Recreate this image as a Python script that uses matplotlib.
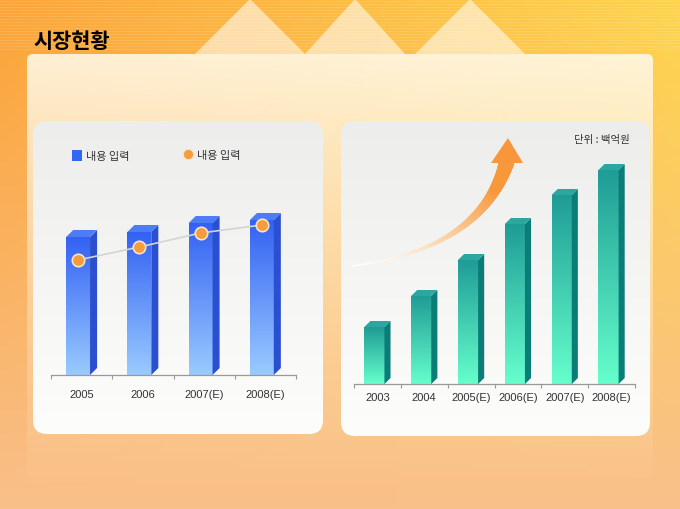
import numpy as np
import matplotlib.pyplot as plt
from matplotlib.patches import Polygon, FancyBboxPatch, Rectangle
from matplotlib.collections import LineCollection
from matplotlib.colors import to_rgb

plt.rcParams['font.family'] = ['Noto Sans CJK KR', 'DejaVu Sans']

# data
title = '시장현황'
left_years = ['2005', '2006', '2007(E)', '2008(E)']
left_bars = [138, 143, 152, 155]
left_line = [115, 128, 142, 150]
legend_bar = '내용 입력'
legend_line = '내용 입력'

right_years = ['2003', '2004', '2005(E)', '2006(E)', '2007(E)', '2008(E)']
right_bars = [57, 88, 124, 160, 189, 214]
unit_text = '단위 : 백억원'

W, H = 680, 510
fig = plt.figure(figsize=(6.8, 5.1), dpi=100)

# background layer in pixel coordinates
bg = fig.add_axes([0, 0, 1, 1])
bg.set_xlim(0, W)
bg.set_ylim(H, 0)
bg.axis('off')


def vgrad(top, bottom, n=256):
    t = np.linspace(0, 1, n)[:, None]
    a = np.array(to_rgb(top))
    b = np.array(to_rgb(bottom))
    return (a * (1 - t) + b * t)[:, None, :].repeat(2, axis=1)


# orange -> yellow background, fading to peach at the bottom
xs = np.linspace(0, 1, 200)[None, :, None]
ys = np.linspace(0, 1, 150)[:, None, None]
left_c = np.array(to_rgb('#fca436'))
right_c = np.array(to_rgb('#fed44c'))
bottom_c = np.array(to_rgb('#f9c08a'))
top_img = left_c * (1 - xs) + right_c * xs
img = top_img * (1 - ys) + bottom_c * ys
bg.imshow(img, extent=(0, W, H, 0), aspect='auto', zorder=0)

# faint horizontal stripes at the top
for yy in range(2, 52, 3):
    bg.plot([0, W], [yy, yy], color='white', alpha=0.12, lw=0.8, zorder=1)

# white triangles at the top
for tx in [(195, 250, 305), (305, 355, 405), (415, 470, 525)]:
    tri = Polygon([(tx[0], 55), (tx[1], 0), (tx[2], 55)], closed=True,
                  facecolor='white', edgecolor='none', alpha=0.55, zorder=1)
    bg.add_patch(tri)

# big cream panel with a fade downwards
panel = FancyBboxPatch((27, 55), 626, 440, boxstyle='round,pad=0,rounding_size=6',
                       facecolor='none', edgecolor='none', zorder=2)
bg.add_patch(panel)
pimg = np.zeros((200, 2, 4))
pimg[..., :3] = to_rgb('#fff8e6')
pimg[..., 3] = np.linspace(0.9, 0.0, 200)[:, None]
im = bg.imshow(pimg, extent=(27, 653, 495, 55), aspect='auto', zorder=2)
im.set_clip_path(panel)

# title
bg.text(33, 42, title, fontsize=15, fontweight='bold', color='black',
        va='center', ha='left', zorder=5)

# two inner panels
for (x0, y0, x1, y1) in [(33, 122, 323, 435), (341, 122, 650, 437)]:
    p = FancyBboxPatch((x0, y0), x1 - x0, y1 - y0,
                       boxstyle='round,pad=0,rounding_size=14',
                       facecolor='none', edgecolor='none', zorder=3)
    bg.add_patch(p)
    pim = bg.imshow(vgrad('#ededeb', '#fdfdfc'), extent=(x0, x1, y1, y0),
                    aspect='auto', zorder=3)
    pim.set_clip_path(p)

# orange growth arrow (decoration), quadratic curve
tt = np.linspace(0, 1, 200)
p0, p1, p2 = np.array([352, 267]), np.array([482, 250]), np.array([507, 162])
curve = ((1 - tt) ** 2)[:, None] * p0 + (2 * (1 - tt) * tt)[:, None] * p1 + (tt ** 2)[:, None] * p2
pts = curve.reshape(-1, 1, 2)
segs = np.concatenate([pts[:-1], pts[1:]], axis=1)
c0 = np.array(to_rgb('#ffffff'))
c1 = np.array(to_rgb('#f7983a'))
mix = np.clip(tt[:-1] / 0.85, 0, 1) ** 1.3
cols = [tuple(c0 * (1 - s) + c1 * s) for s in mix]
widths = (1.5 + 14 * tt[:-1] ** 1.8) * 0.72
bg.add_collection(LineCollection(segs, colors=cols, linewidths=widths,
                                 capstyle='round', zorder=4))
bg.add_patch(Polygon([(491, 164), (508, 139), (523, 164)], closed=True,
                     facecolor='#f7963a', edgecolor='none', zorder=4))

bg.text(630, 140, unit_text, fontsize=7.5, color='#333333', ha='right',
        va='center', zorder=5)

# legend of left chart
bg.add_patch(Rectangle((72, 151), 10, 11, facecolor='#3366f2', edgecolor='none', zorder=5))
bg.text(86, 157, legend_bar, fontsize=8, color='#333333', va='center', zorder=5)
bg.scatter([188], [155], s=55, color='#f59c3c', edgecolors='#fbe2c2', linewidths=0.8, zorder=5)
bg.text(197, 156, legend_line, fontsize=8, color='#333333', va='center', zorder=5)


def bar3d(ax, x, h, w, dx, dy, front_top, front_bottom, side, top):
    x0 = x - w / 2 - dx / 2
    ax.imshow(vgrad(front_top, front_bottom), extent=(x0, x0 + w, 0, h),
              aspect='auto', zorder=2)
    ax.add_patch(Polygon([(x0 + w, 0), (x0 + w + dx, dy), (x0 + w + dx, h + dy),
                          (x0 + w, h)], closed=True, facecolor=side,
                         edgecolor='none', zorder=2))
    ax.add_patch(Polygon([(x0, h), (x0 + dx, h + dy), (x0 + w + dx, h + dy),
                          (x0 + w, h)], closed=True, facecolor=top,
                         edgecolor='none', zorder=2))
    return x0 + w / 2


def setup_axis(ax, n, labels, pad):
    ax.set_xlim(-0.5, n - 0.5)
    ax.set_ylim(0, 240)
    ax.patch.set_alpha(0)
    for s in ['top', 'right', 'left']:
        ax.spines[s].set_visible(False)
    ax.spines['bottom'].set_color('#999999')
    ax.spines['bottom'].set_linewidth(0.9)
    ax.set_yticks([])
    ax.set_xticks(np.arange(n + 1) - 0.5)
    ax.set_xticklabels([])
    ax.tick_params(axis='x', which='major', length=3, color='#999999', direction='out')
    ax.set_xticks(np.arange(n), minor=True)
    ax.set_xticklabels(labels, minor=True, family='Liberation Sans',
                       fontsize=8, color='#333333')
    ax.tick_params(axis='x', which='minor', length=0, pad=pad)


# left chart
axl = fig.add_axes([51 / W, (H - 376) / H, 245 / W, 240 / H])
centers = []
for i, v in enumerate(left_bars):
    centers.append(bar3d(axl, i, v, 0.39, 0.115, 7, '#3361f3', '#9acbff',
                         '#2a4fd0', '#4d7cf6'))
axl.plot(centers, left_line, color='#d4d4d4', lw=1.2, zorder=3)
axl.scatter(centers, left_line, s=80, color='#f59c3c', edgecolors='#fbe3c6',
            linewidths=1.2, zorder=4)
setup_axis(axl, len(left_years), left_years, 10)

# right chart
axr = fig.add_axes([354 / W, (H - 385) / H, 281 / W, 240 / H])
for i, v in enumerate(right_bars):
    bar3d(axr, i, v, 0.43, 0.13, 6, '#1f9c96', '#66ffcc', '#0b7d77', '#2aa7a0')
setup_axis(axr, len(right_years), right_years, 6)

fig.savefig('out.png', dpi=100)
